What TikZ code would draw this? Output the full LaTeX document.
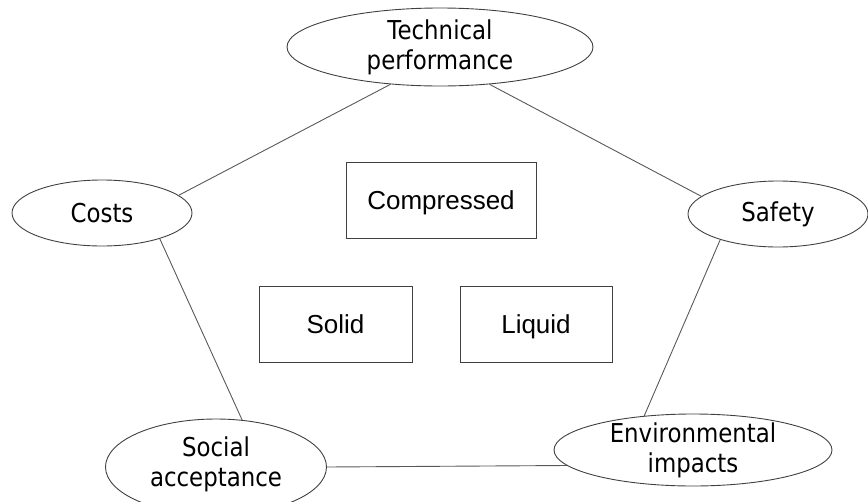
\documentclass[tikz,border=0pt]{standalone}
\usepackage{fontspec}
\setmainfont{Liberation Sans}
\newfontfamily\ovalfont[FakeStretch=0.88]{DejaVu Sans}
\usepackage{tikz}
\usetikzlibrary{shapes.geometric}
\tikzstyle{oval} = [ellipse, draw=black!75, line width=0.9pt, inner sep=0pt]
\tikzstyle{ovaltext} = [align=center, font=\ovalfont\fontsize{26}{30}\selectfont, text=black]
\tikzstyle{storage} = [rectangle, draw=black!75, line width=0.9pt, minimum height=76pt, text height=19pt, text depth=0pt, text centered, font=\fontsize{26}{30}\selectfont]
\tikzstyle{link} = [draw=black!65, line width=0.9pt]

\begin{document}
\begin{tikzpicture}[x=1pt, y=-1pt]
\useasboundingbox (0,0) rectangle (868,501);
\node (tech) [oval, minimum width=306pt, minimum height=78pt, label={[ovaltext]center:Technical\\performance}] at (440,47) {};
\node (costs) [oval, minimum width=180pt, minimum height=66pt, label={[ovaltext]center:Costs}] at (102,213) {};
\node (safety) [oval, minimum width=180pt, minimum height=66pt, label={[ovaltext]center:Safety}] at (778,214) {};
\node (social) [oval, minimum width=221pt, minimum height=96pt, label={[ovaltext, yshift=3pt]center:Social\\acceptance}] at (216,467) {};
\node (env) [oval, minimum width=278pt, minimum height=72pt, label={[ovaltext]center:Environmental\\impacts}] at (693,450) {};
\node (comp) [storage, minimum width=190pt] at (441,200) {Compressed};
\node (solid) [storage, minimum width=153pt] at (335.5,324) {Solid};
\node (liquid) [storage, minimum width=152pt] at (536,324) {Liquid};
\draw [link] (tech.217) -- (costs.13);
\draw [link] (tech.323) -- (safety.167);
\draw [link] (costs.336) -- (social.61);
\draw [link] (safety.204) -- (env.145);
\draw [link] (social.0) -- (env.187);
\end{tikzpicture}
\end{document}
